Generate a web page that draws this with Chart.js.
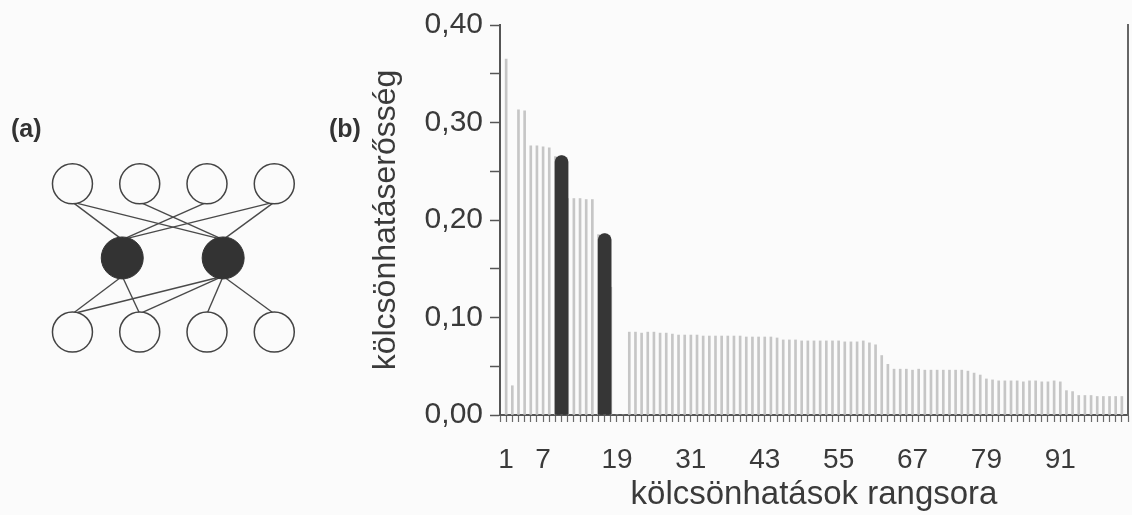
<!DOCTYPE html>
<html><head><meta charset="utf-8">
<script src="https://cdn.jsdelivr.net/npm/chart.js@4.4.1/dist/chart.umd.min.js"></script>
<style>
html,body{margin:0;padding:0;background:#fbfbfb;width:1132px;height:515px;overflow:hidden;font-family:"Liberation Sans",Arial,sans-serif;}
#wrap{position:relative;width:1132px;height:515px;}
canvas{position:absolute;top:0;left:0;}
.lbl{position:absolute;font-weight:bold;font-size:25px;line-height:30px;color:#333;}
</style></head><body>
<div id="wrap">
<canvas id="bars" width="1132" height="515"></canvas>
<canvas id="net" width="340" height="515"></canvas>
<div class="lbl" style="left:11px;top:113px">(a)</div>
<div class="lbl" style="left:329px;top:113px">(b)</div>
</div>
<script>
// ---- panel (b) data ----
const strength = [
  0.365, 0.030, 0.313, 0.312, 0.276, 0.276, 0.275, 0.274, 0.265, 0.266,
  0.222, 0.222, 0.222, 0.221, 0.221, 0.185, 0.186, 0.131, 0.000, 0.000,
  0.085, 0.085, 0.084, 0.085, 0.085, 0.084, 0.084, 0.083, 0.082, 0.082,
  0.082, 0.082, 0.081, 0.081, 0.081, 0.081, 0.081, 0.081, 0.081, 0.080,
  0.080, 0.080, 0.080, 0.080, 0.079, 0.077, 0.077, 0.077, 0.076, 0.076,
  0.076, 0.076, 0.076, 0.076, 0.076, 0.075, 0.075, 0.075, 0.076, 0.074,
  0.072, 0.061, 0.052, 0.047, 0.047, 0.047, 0.046, 0.047, 0.046, 0.046,
  0.046, 0.046, 0.046, 0.046, 0.046, 0.045, 0.043, 0.041, 0.037, 0.036,
  0.035, 0.035, 0.035, 0.035, 0.034, 0.035, 0.035, 0.034, 0.034, 0.035,
  0.034, 0.025, 0.024, 0.020, 0.020, 0.020, 0.019, 0.019, 0.019, 0.019,
  0.019
];
const ranks = strength.map((_, i) => i + 1);
const hubRanks = [10, 17];
const hubStrength = [0.266, 0.186];
const xTickLabels = [1, 7, 19, 31, 43, 55, 67, 79, 91];
const yTickLabels = [0, 0.1, 0.2, 0.3, 0.4];

// ---- panel (a) data ----
const nodeX = [1, 2, 3, 4, 1.74, 3.24, 1, 2, 3, 4];
const nodeY = [2, 2, 2, 2, 1, 1, 0, 0, 0, 0];
const nodeHub = [false, false, false, false, true, true, false, false, false, false];
const edges = [[0,4],[0,5],[1,5],[2,4],[3,4],[3,5],[4,6],[4,7],[5,6],[5,7],[5,8],[5,9]];

const FONT = '"Liberation Sans", Arial, sans-serif';
const TXT = '#3a3a3a';

new Chart(document.getElementById('bars'), {
  type: 'bar',
  data: {
    datasets: [
      {
        label: 'hub',
        data: hubRanks.map((r, i) => ({x: r, y: hubStrength[i]})),
        backgroundColor: '#363636',
        barThickness: 13,
        borderRadius: {topLeft: 7, topRight: 7, bottomLeft: 0, bottomRight: 0},
        borderSkipped: 'start',
        order: 0
      },
      {
        label: 'all',
        data: ranks.map((r, i) => ({x: r, y: strength[i]})),
        backgroundColor: '#c6c6c6',
        barThickness: 2,
        order: 1
      }
    ]
  },
  options: {
    responsive: false,
    animation: false,
    events: [],
    devicePixelRatio: 1,
    datasets: {bar: {grouped: false}},
    layout: {padding: {left: 363, right: 4, top: 25, bottom: 0}},
    plugins: {legend: {display: false}, tooltip: {enabled: false}},
    scales: {
      x: {
        type: 'linear', min: 0, max: 102, offset: false,
        grid: {offset: false, drawOnChartArea: false, drawTicks: true, tickLength: 7, tickColor: '#6a6a6a', tickWidth: 1.2},
        border: {display: true, color: '#555', width: 2},
        ticks: {
          stepSize: 1, autoSkip: false, maxRotation: 0, minRotation: 0, padding: 21,
          color: TXT, font: {family: FONT, size: 28},
          callback: v => xTickLabels.includes(v) ? String(v) : ''
        },
        title: {display: true, text: 'kölcsönhatások rangsora', color: TXT, font: {family: FONT, size: 33}, padding: {top: 4, bottom: 0}},
        afterFit: s => { s.height = 100; s.paddingLeft = 0; s.paddingRight = 0; }
      },
      y: {
        min: 0, max: 0.4,
        grid: {drawOnChartArea: false, drawTicks: true, tickLength: 10, tickColor: '#555', tickWidth: 1.5},
        border: {display: true, color: '#555', width: 2},
        ticks: {
          stepSize: 0.05, padding: 7, color: TXT, font: {family: FONT, size: 30},
          callback: v => {
            const hit = yTickLabels.find(t => Math.abs(t - v) < 1e-6);
            return hit === undefined ? '' : hit.toFixed(2).replace('.', ',');
          }
        },
        title: {display: true, text: 'kölcsönhatáserősség', color: TXT, font: {family: FONT, size: 32}, padding: {top: 4, bottom: 4}},
        afterFit: s => { s.width = 137; }
      },
      y2: {
        position: 'right', min: 0, max: 0.4,
        grid: {display: false, drawOnChartArea: false, drawTicks: false},
        ticks: {display: false},
        border: {display: true, color: '#666', width: 2},
        afterFit: s => { s.width = 0; }
      }
    }
  }
});

// ---- panel (a): network drawn as a scatter chart ----
const NET_W = 340, NET_H = 515;
const xMin = 0.25, xMax = 4.65, yMin = -2.173, yMax = 4.185;
const pxPerY = NET_H / (yMax - yMin);
const R_OPEN = 20, R_HUB = 20;
const rUnits = i => (nodeHub[i] ? R_HUB : R_OPEN) / pxPerY;

const edgeSets = edges.map(([a, b]) => ({
  type: 'scatter',
  data: [{x: nodeX[a], y: nodeY[a] - rUnits(a)}, {x: nodeX[b], y: nodeY[b] + rUnits(b)}],
  showLine: true, borderColor: '#4a4a4a', borderWidth: 1.4, pointRadius: 0, order: 5
}));
const openIdx = nodeX.map((_, i) => i).filter(i => !nodeHub[i]);
const hubIdx = nodeX.map((_, i) => i).filter(i => nodeHub[i]);

new Chart(document.getElementById('net'), {
  type: 'scatter',
  data: {
    datasets: [
      {
        data: hubIdx.map(i => ({x: nodeX[i], y: nodeY[i]})),
        pointRadius: R_HUB + 1, pointBackgroundColor: '#333', pointBorderColor: '#333', pointBorderWidth: 1, order: 0
      },
      {
        data: openIdx.map(i => ({x: nodeX[i], y: nodeY[i]})),
        pointRadius: R_OPEN, pointBackgroundColor: '#fbfbfb', pointBorderColor: '#444', pointBorderWidth: 1.5, order: 1
      },
      ...edgeSets
    ]
  },
  options: {
    responsive: false, animation: false, events: [], devicePixelRatio: 1,
    layout: {padding: 0},
    plugins: {legend: {display: false}, tooltip: {enabled: false}},
    scales: {
      x: {type: 'linear', display: false, min: xMin, max: xMax},
      y: {type: 'linear', display: false, min: yMin, max: yMax}
    }
  }
});
</script>
</body></html>
